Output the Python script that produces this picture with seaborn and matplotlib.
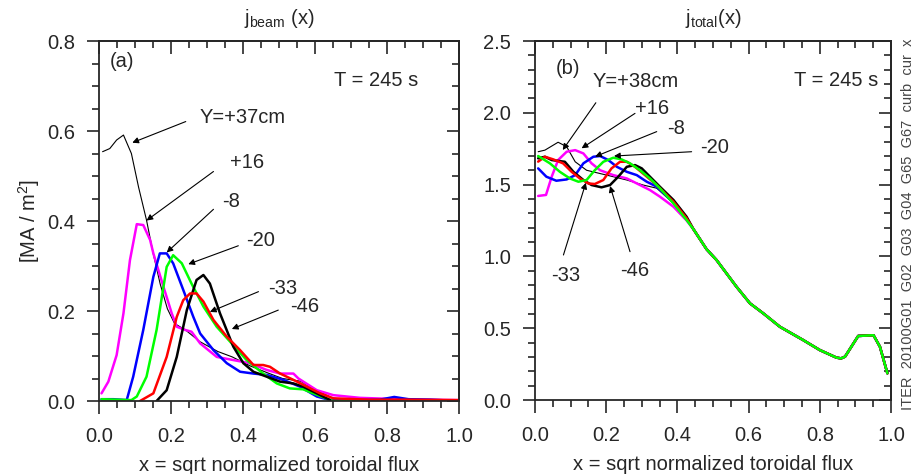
import numpy as np
import pandas as pd
import matplotlib
matplotlib.use('Agg')
import matplotlib.pyplot as plt
from matplotlib.ticker import MultipleLocator, NullFormatter, FormatStrFormatter
import seaborn as sns

sns.set_style('white')
plt.rcParams['font.family'] = ['Liberation Sans', 'DejaVu Sans']
plt.rcParams['mathtext.fontset'] = 'custom'
plt.rcParams['mathtext.rm'] = 'Liberation Sans'

#Panel (a): beam current density for each beam offset Y
beam_x_p37 = [0.01, 0.03, 0.049, 0.068, 0.09, 0.11, 0.132, 0.15, 0.17, 0.19, 0.21, 0.24, 0.28, 0.33,
              0.37, 0.42, 0.47, 0.51, 0.56, 0.60, 0.65, 0.70, 0.80, 0.90, 1.0]
beam_y_p37 = [0.554, 0.561, 0.58, 0.591, 0.55, 0.475, 0.402, 0.33, 0.26, 0.205, 0.172, 0.158, 0.132, 0.11,
              0.098, 0.078, 0.062, 0.05, 0.044, 0.025, 0.006, 0.003, 0.002, 0.001, 0.0]

beam_x_p16 = [0.007, 0.026, 0.049, 0.068, 0.086, 0.105, 0.123, 0.142, 0.151, 0.179, 0.202, 0.216, 0.239, 0.257,
              0.281, 0.327, 0.373, 0.419, 0.466, 0.503, 0.54, 0.554, 0.605, 0.651, 0.725, 0.8, 0.9, 1.0]
beam_y_p16 = [0.017, 0.043, 0.102, 0.195, 0.313, 0.393, 0.391, 0.358, 0.328, 0.254, 0.195, 0.165, 0.158, 0.154,
              0.128, 0.098, 0.091, 0.084, 0.069, 0.061, 0.061, 0.05, 0.024, 0.013, 0.007, 0.005, 0.003, 0.002]

beam_x_m8 = [0.007, 0.04, 0.077, 0.095, 0.123, 0.151, 0.169, 0.188, 0.206, 0.234, 0.262, 0.281, 0.318, 0.355,
             0.392, 0.429, 0.466, 0.512, 0.558, 0.605, 0.642, 0.70, 0.78, 0.82, 0.86, 0.92, 1.0]
beam_y_m8 = [0.004, 0.004, 0.002, 0.054, 0.158, 0.276, 0.328, 0.328, 0.306, 0.247, 0.187, 0.15, 0.113, 0.084,
             0.065, 0.061, 0.058, 0.047, 0.032, 0.01, 0.002, 0.002, 0.003, 0.009, 0.004, 0.003, 0.0]

beam_x_m20 = [0.007, 0.05, 0.09, 0.105, 0.132, 0.16, 0.188, 0.206, 0.23, 0.257, 0.29, 0.327, 0.373, 0.41,
              0.456, 0.494, 0.53, 0.567, 0.605, 0.65, 0.8, 1.0]
beam_y_m20 = [0.004, 0.003, 0.002, 0.01, 0.054, 0.158, 0.298, 0.324, 0.306, 0.261, 0.21, 0.165, 0.124, 0.091,
              0.061, 0.039, 0.028, 0.026, 0.014, 0.0, 0.0, 0.0]

beam_x_m33 = [0.114, 0.151, 0.188, 0.216, 0.234, 0.253, 0.271, 0.29, 0.318, 0.355, 0.392, 0.429, 0.456, 0.475,
              0.503, 0.54, 0.577, 0.614, 0.651, 0.75, 0.85, 1.0]
beam_y_m33 = [0.0, 0.017, 0.098, 0.187, 0.224, 0.239, 0.239, 0.221, 0.18, 0.143, 0.113, 0.08, 0.08, 0.076,
              0.061, 0.047, 0.032, 0.017, 0.006, 0.003, 0.003, 0.002]

beam_x_m46 = [0.16, 0.188, 0.216, 0.244, 0.271, 0.29, 0.308, 0.336, 0.373, 0.401, 0.429, 0.466, 0.503, 0.54,
              0.567, 0.605, 0.642]
beam_y_m46 = [0.0, 0.024, 0.098, 0.202, 0.269, 0.28, 0.261, 0.195, 0.121, 0.084, 0.065, 0.054, 0.043, 0.039,
              0.032, 0.017, 0.002]

#Panel (b): total current density, the curves share one tail beyond x ~ 0.44
total_tail_x = [0.445, 0.482, 0.51, 0.566, 0.604, 0.641, 0.688, 0.753, 0.80, 0.847, 0.86, 0.871, 0.908, 0.951,
                0.969, 0.99]
total_tail_y = [1.19, 1.05, 0.975, 0.789, 0.673, 0.604, 0.51, 0.418, 0.348, 0.295, 0.29, 0.302, 0.446, 0.451,
                0.371, 0.186]

total_x_p38 = [0.009, 0.028, 0.065, 0.089, 0.113, 0.145, 0.183, 0.22, 0.258, 0.304, 0.342, 0.389, 0.426]
total_y_p38 = [1.729, 1.74, 1.795, 1.764, 1.659, 1.6, 1.577, 1.555, 1.532, 1.497, 1.475, 1.37, 1.26]

total_x_p16 = [0.009, 0.031, 0.047, 0.065, 0.089, 0.113, 0.136, 0.159, 0.183, 0.22, 0.258, 0.295, 0.323, 0.351,
               0.389, 0.426]
total_y_p16 = [1.421, 1.428, 1.555, 1.671, 1.729, 1.74, 1.717, 1.648, 1.6, 1.566, 1.543, 1.497, 1.462, 1.416,
               1.346, 1.25]

total_x_m8 = [0.009, 0.032, 0.06, 0.089, 0.113, 0.136, 0.164, 0.183, 0.206, 0.23, 0.258, 0.286, 0.314, 0.342,
              0.389, 0.426]
total_y_m8 = [1.613, 1.555, 1.527, 1.536, 1.566, 1.648, 1.694, 1.699, 1.671, 1.624, 1.589, 1.566, 1.52, 1.486,
              1.375, 1.265]

total_x_m20 = [0.009, 0.042, 0.07, 0.098, 0.122, 0.145, 0.168, 0.192, 0.22, 0.243, 0.267, 0.295, 0.323, 0.351,
               0.389, 0.426]
total_y_m20 = [1.699, 1.648, 1.589, 1.543, 1.52, 1.532, 1.6, 1.659, 1.687, 1.676, 1.648, 1.6, 1.543, 1.474,
               1.369, 1.253]

total_x_m33 = [0.009, 0.028, 0.051, 0.079, 0.103, 0.126, 0.15, 0.168, 0.192, 0.215, 0.239, 0.258, 0.281, 0.309,
               0.342, 0.389, 0.426]
total_y_m33 = [1.66, 1.694, 1.676, 1.648, 1.589, 1.543, 1.508, 1.504, 1.532, 1.613, 1.659, 1.659, 1.624, 1.566,
               1.497, 1.381, 1.265]

total_x_m46 = [0.009, 0.028, 0.047, 0.084, 0.108, 0.136, 0.159, 0.187, 0.211, 0.234, 0.258, 0.281, 0.3, 0.323,
               0.351, 0.389, 0.426]
total_y_m46 = [1.683, 1.694, 1.671, 1.659, 1.589, 1.532, 1.497, 1.481, 1.497, 1.555, 1.624, 1.636, 1.613, 1.555,
               1.485, 1.393, 1.276]

FS = 14.5
ARROW = dict(arrowstyle='-|>', color='black', lw=0.8, mutation_scale=9, shrinkA=0, shrinkB=0)

fig = plt.figure(figsize=(9.14, 4.74), dpi=100)
ax1 = fig.add_axes([0.1083, 0.154, 0.3939, 0.7595])
ax2 = fig.add_axes([0.5853, 0.1561, 0.3895, 0.7574])


def draw(ax, x, y, color, lw):
    sns.lineplot(x=x, y=y, color=color, lw=lw, ax=ax, estimator=None, sort=False)


#Left panel curves
draw(ax1, beam_x_p37, beam_y_p37, 'black', 0.8)
draw(ax1, beam_x_p16, beam_y_p16, '#ff00ff', 1.8)
draw(ax1, beam_x_m8, beam_y_m8, '#0000ff', 1.8)
draw(ax1, beam_x_m20, beam_y_m20, '#00ff00', 1.8)
draw(ax1, beam_x_m46, beam_y_m46, 'black', 1.8)
draw(ax1, beam_x_m33, beam_y_m33, '#ff0000', 1.8)

#Right panel curves (head + shared tail)
draw(ax2, total_x_p38 + total_tail_x, total_y_p38 + total_tail_y, 'black', 0.8)
draw(ax2, total_x_p16 + total_tail_x, total_y_p16 + total_tail_y, '#ff00ff', 1.8)
draw(ax2, total_x_m8 + total_tail_x, total_y_m8 + total_tail_y, '#0000ff', 1.8)
draw(ax2, total_x_m46 + total_tail_x, total_y_m46 + total_tail_y, 'black', 1.8)
draw(ax2, total_x_m33 + total_tail_x, total_y_m33 + total_tail_y, '#ff0000', 1.8)
draw(ax2, total_x_m20 + total_tail_x, total_y_m20 + total_tail_y, '#00ff00', 1.8)


def style(ax, ymax, ymaj, ymin):
    ax.set_xlim(0, 1)
    ax.set_ylim(0, ymax)
    ax.xaxis.set_major_locator(MultipleLocator(0.2))
    ax.xaxis.set_minor_locator(MultipleLocator(0.05))
    ax.yaxis.set_major_locator(MultipleLocator(ymaj))
    ax.yaxis.set_minor_locator(MultipleLocator(ymin))
    ax.xaxis.set_major_formatter(FormatStrFormatter('%.1f'))
    ax.yaxis.set_major_formatter(FormatStrFormatter('%.1f'))
    ax.tick_params(which='both', direction='out', width=1.2, labelsize=FS,
                   top=False, right=False, left=True, bottom=True)
    ax.tick_params(axis='x', pad=10)
    ax.tick_params(axis='y', pad=8)
    ax.tick_params(which='major', length=9)
    ax.tick_params(which='minor', length=5)
    for sp in ax.spines.values():
        sp.set_linewidth(1.3)
        sp.set_visible(True)
    #top and right ticks point inwards
    top = ax.secondary_xaxis('top')
    top.xaxis.set_major_locator(MultipleLocator(0.2))
    top.xaxis.set_minor_locator(MultipleLocator(0.05))
    top.xaxis.set_major_formatter(NullFormatter())
    right = ax.secondary_yaxis('right')
    right.yaxis.set_major_locator(MultipleLocator(ymaj))
    right.yaxis.set_minor_locator(MultipleLocator(ymin))
    right.yaxis.set_major_formatter(NullFormatter())
    for sec in (top, right):
        sec.tick_params(which='both', direction='in', width=1.2)
        sec.tick_params(which='major', length=9)
        sec.tick_params(which='minor', length=5)
        for sp in sec.spines.values():
            sp.set_linewidth(1.3)
    ax.set_xlabel('x = sqrt normalized toroidal flux', fontsize=FS, labelpad=7)


style(ax1, 0.8, 0.2, 0.05)
style(ax2, 2.5, 0.5, 0.1)

ax1.set_ylabel('[MA / m$^2$]', fontsize=FS, labelpad=4)
ax1.set_title(r'$\mathregular{j_{beam}}$ (x)', fontsize=FS, pad=12)
ax2.set_title(r'$\mathregular{j_{total}}$(x)', fontsize=FS, pad=12)

#Panel (a) labels
ax1.text(0.03, 0.754, '(a)', fontsize=FS, va='center')
ax1.text(0.886, 0.713, 'T = 245 s', fontsize=FS, va='center', ha='right')
ax1.annotate('', xy=(0.0925, 0.574), xytext=(0.241, 0.621), arrowprops=ARROW)
ax1.text(0.28, 0.629, 'Y=+37cm', fontsize=FS, va='center')
ax1.annotate('', xy=(0.132, 0.401), xytext=(0.318, 0.51), arrowprops=ARROW)
ax1.text(0.364, 0.529, '+16', fontsize=FS, va='center')
ax1.annotate('', xy=(0.188, 0.33), xytext=(0.318, 0.426), arrowprops=ARROW)
ax1.text(0.341, 0.443, '-8', fontsize=FS, va='center')
ax1.annotate('', xy=(0.248, 0.304), xytext=(0.387, 0.345), arrowprops=ARROW)
ax1.text(0.41, 0.356, '-20', fontsize=FS, va='center')
ax1.annotate('', xy=(0.308, 0.198), xytext=(0.443, 0.243), arrowprops=ARROW)
ax1.text(0.47, 0.25, '-33', fontsize=FS, va='center')
ax1.annotate('', xy=(0.369, 0.16), xytext=(0.498, 0.202), arrowprops=ARROW)
ax1.text(0.53, 0.211, '-46', fontsize=FS, va='center')

#Panel (b) labels
ax2.text(0.059, 2.31, '(b)', fontsize=FS, va='center')
ax2.text(0.963, 2.228, 'T = 245 s', fontsize=FS, va='center', ha='right')
ax2.annotate('', xy=(0.078, 1.741), xytext=(0.171, 2.07), arrowprops=ARROW)
ax2.text(0.163, 2.217, 'Y=+38cm', fontsize=FS, va='center')
ax2.annotate('', xy=(0.131, 1.753), xytext=(0.281, 1.996), arrowprops=ARROW)
ax2.text(0.281, 2.033, '+16', fontsize=FS, va='center')
ax2.annotate('', xy=(0.169, 1.695), xytext=(0.342, 1.869), arrowprops=ARROW)
ax2.text(0.37, 1.894, '-8', fontsize=FS, va='center')
ax2.annotate('', xy=(0.222, 1.699), xytext=(0.44, 1.729), arrowprops=ARROW)
ax2.text(0.463, 1.755, '-20', fontsize=FS, va='center')
ax2.annotate('', xy=(0.143, 1.513), xytext=(0.08, 1.01), arrowprops=ARROW)
ax2.text(0.044, 0.87, '-33', fontsize=FS, va='center')
ax2.annotate('', xy=(0.211, 1.49), xytext=(0.267, 1.033), arrowprops=ARROW)
ax2.text(0.239, 0.905, '-46', fontsize=FS, va='center')

#run identifier along the right edge
fig.text(0.9935, 0.135, 'ITER  20100G01  G02  G03  G04  G65  G67  curb  cur  x', rotation=90,
         fontsize=10.5, color='#444444', ha='center', va='bottom')

fig.savefig('out.png', dpi=100)
